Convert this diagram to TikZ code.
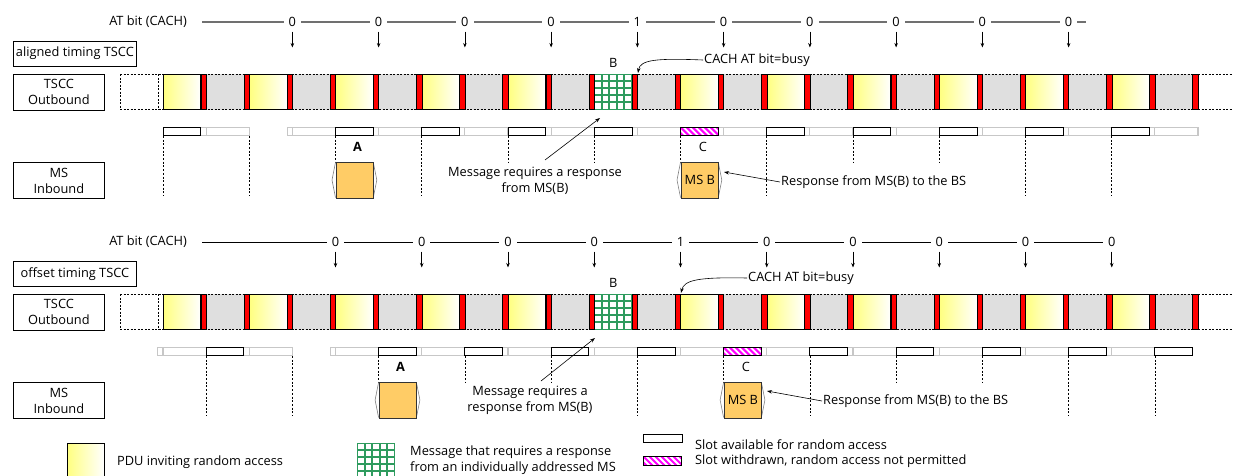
\documentclass[tikz,border=0pt]{standalone}
\usepackage{fontspec}
\setmainfont{Open Sans}
\usetikzlibrary{arrows.meta}
\definecolor{msorange}{HTML}{FFCC66}
\definecolor{chkgreen}{HTML}{2E9B5E}
\definecolor{atgray}{HTML}{707070}
\definecolor{hotpink}{HTML}{FF00FF}
\tikzset{
  txt/.style={font=\fontsize{12.8}{16}\selectfont, inner sep=1pt},
  lbox/.style={draw, line width=0.8, align=center, inner sep=0pt, font=\fontsize{12.8}{16}\selectfont},
  yelslot/.style={left color=yellow!50, right color=white, draw=black, line width=0.8},
  redbar/.style={fill=red, draw=black, line width=0.5},
  stripdash/.style={dash pattern=on 2pt off 1.5pt, line width=0.7},
  slotfree/.style={draw=black, line width=0.9, fill=white},
  slotoff/.style={draw=black!22, line width=1.1, fill=white},
  vdash/.style={dash pattern=on 2pt off 1.7pt, line width=0.7},
  atarrow/.style={line width=0.7, -{Stealth[length=4.5pt,width=3.5pt]}},
  callout/.style={line width=0.6, -{Stealth[length=5pt,width=3.5pt]}},
  msshape/.style={fill=msorange, draw=black!80, line width=0.8, inner sep=0pt,
    minimum width=37.8pt, minimum height=35.2pt, anchor=north west, font=\fontsize{12.8}{16}\selectfont},
}
% checker: x, y, height
\newcommand\checkerbox[3]{%
  \begin{scope}
    \clip (#1,#2) rectangle ++(37.8,#3);
    \fill[white] (#1,#2) rectangle ++(37.8,#3);
    \foreach \i in {0,...,5} {\draw[chkgreen, line width=2] ({#1+7.56*\i},#2) -- ++(0,#3);}
    \foreach \i in {0,...,7} {\draw[chkgreen, line width=2] (#1,{#2+7.1*\i}) -- ++(37.8,0);}
  \end{scope}}
% pink withdrawn slot: x, y
\newcommand\pinkslot[2]{%
  \begin{scope}
    \clip (#1,#2) rectangle ++(37.8,8.6);
    \fill[white] (#1,#2) rectangle ++(37.8,8.6);
    \foreach \s in {-12,-6,...,42} {\draw[hotpink, line width=2.1] ({#1+\s},#2) -- ++(9,9);}
  \end{scope}
  \draw[black, line width=0.9] (#1,#2) rectangle ++(37.8,8.6);}
% MS box with side wedges: x, name, text
\newcommand\msbox[3]{%
  \draw[gray, line width=0.6] (#1,162.3) -- ({#1-3.5},180) -- (#1,197.5);
  \draw[gray, line width=0.6] ({#1+37.8},162.3) -- ({#1+41.3},180) -- ({#1+37.8},197.5);
  \node[msshape] (#2) at (#1,162.3) {#3};}
% TSCC outbound strip
\newcommand\tsccstrip{%
  \fill[gray!25] (163,74) rectangle (1198,109.5);
  \draw[stripdash] (120,74) -- (1233,74) (120,109.5) -- (1233,109.5)
                   (120,74) -- (120,109.5) (158,74) -- (158,109.5);
  \foreach \k in {0,2,...,22} {
    \ifnum\k=10
      \checkerbox{594.25}{74}{35.5}
    \else
      \draw[yelslot] ({163+43.125*\k},74) rectangle ++(37.8,35.5);
    \fi
  }
  \foreach \k in {0,...,23} {\draw[redbar] ({163+43.125*\k+37.8},74) rectangle ++(5.325,35.5);}
  \node[txt] (lblB\secname) at (613.2,62.5) {B};}

\begin{document}
\begin{tikzpicture}[x=1pt,y=-1pt]
\useasboundingbox (0,0) rectangle (1233,475);
\clip (0,0) rectangle (1233,475);

%================ TOP: aligned timing =================
\def\secname{T}
\node[txt, anchor=east] (atlblT) at (188,22) {AT bit (CACH)};
\draw[atgray, line width=1.1] (202,22) -- (1086,22);
\foreach \k/\v [count=\j] in {3/0,5/0,7/0,9/0,11/1,13/0,15/0,17/0,19/0,21/0} {
  \node[txt, fill=white, inner xsep=5pt] (bitT\j) at ({163+43.125*\k},22) {\v};
  \coordinate (bsT\j) at ({163+43.125*\k},31.5);
  \coordinate (beT\j) at ({163+43.125*\k},47.5);
  \draw[atarrow] (bsT\j) -- (beT\j);
}
\node[lbox, anchor=north west, minimum width=123pt, minimum height=24.5pt] (timT) at (13,41) {aligned timing TSCC};
\node[lbox, anchor=north west, minimum width=91pt, minimum height=35.5pt] (outT) at (13,74) {TSCC\\Outbound};
\node[lbox, anchor=north west, minimum width=91pt, minimum height=35.5pt] (msT) at (13,162.3) {MS\\Inbound};
\tsccstrip
% slot row
\foreach \k in {1,3,...,23} {\draw[slotoff] ({163+43.125*\k},127.2) rectangle ++(43.125,8.6);}
\foreach \k in {0,2,...,22} {\draw[slotoff] ({163+43.125*\k+37.8},127.2) rectangle ++(5.325,8.6);}
\foreach \k in {0,4,6,8,10,14,16,18,20,22} {\draw[slotfree] ({163+43.125*\k},127.2) rectangle ++(37.8,8.6);}
\pinkslot{680.5}{127.2}
\foreach \k in {0,2,6,14,20,22} {\draw[vdash] ({163+43.125*\k},135.8) -- ++(0,59.5);}
\foreach \k in {8,10,16,18} {\draw[vdash] ({163+43.125*\k},135.8) -- ++(0,26.5);}
\foreach \k in {4,12} {\draw[vdash] ({163+43.125*\k},135.8) -- ++(0,26.5);}
\msbox{335.5}{msAT}{}
\msbox{680.5}{msBT}{MS B}
\node[txt, font=\fontsize{12.8}{16}\selectfont\bfseries] (lblAT) at (357.5,146.5) {A};
\node[txt] (lblCT) at (703,146.5) {C};
% callouts
\node[txt, anchor=west] (cachT) at (703,60) {CACH AT bit=busy};
\coordinate (cachTipT) at (638,73);
\draw[callout] (cachT.west) .. controls (655,58) and (640,60) .. (cachTipT);
\node[txt, align=center] (msgT) at (535,181) {Message requires a response\\from MS(B)};
\coordinate (msgTailT) at (545,160);
\coordinate (msgTipT) at (600,118);
\draw[callout] (msgTailT) -- (msgTipT);
\node[txt, anchor=west] (respT) at (780,182) {Response from MS(B) to the BS};
\coordinate (respTipT) at (724,172);
\draw[callout] (respT.west) -- (respTipT);

%================ BOTTOM: offset timing =================
\begin{scope}[shift={(0,220)}]
\def\secname{O}
\node[txt, anchor=east] (atlblO) at (188,22) {AT bit (CACH)};
\draw[black, line width=0.7] (202,22) -- (1110,22);
\foreach \k/\v [count=\j] in {4/0,6/0,8/0,10/0,12/1,14/0,16/0,18/0,20/0,22/0} {
  \node[txt, fill=white, inner xsep=5pt] (bitO\j) at ({163+43.125*\k},22) {\v};
  \coordinate (bsO\j) at ({163+43.125*\k},31.5);
  \coordinate (beO\j) at ({163+43.125*\k},47.5);
  \draw[atarrow] (bsO\j) -- (beO\j);
}
\node[lbox, anchor=north west, minimum width=123pt, minimum height=24.5pt] (timO) at (13,41) {offset timing TSCC};
\node[lbox, anchor=north west, minimum width=91pt, minimum height=35.5pt] (outO) at (13,74) {TSCC\\Outbound};
\node[lbox, anchor=north west, minimum width=91pt, minimum height=35.5pt] (msO) at (13,162.3) {MS\\Inbound};
\tsccstrip
% slot row
\draw[slotoff] (157.7,127.2) rectangle ++(5.3,8.6);
\foreach \k in {0,2,...,22} {\draw[slotoff] ({163+43.125*\k},127.2) rectangle ++(43.125,8.6);}
\foreach \k in {1,3,...,21} {\draw[slotoff] ({163+43.125*\k+37.8},127.2) rectangle ++(5.325,8.6);}
\foreach \k in {1,5,7,9,11,15,17,19,21,23} {\draw[slotfree] ({163+43.125*\k},127.2) rectangle ++(37.8,8.6);}
\pinkslot{723.6}{127.2}
\foreach \k in {1,3,11,15,21,23} {\draw[vdash] ({163+43.125*\k},135.8) -- ++(0,59.5);}
\foreach \k in {7,9,17,19} {\draw[vdash] ({163+43.125*\k},135.8) -- ++(0,26.5);}
\foreach \k in {5,13} {\draw[vdash] ({163+43.125*\k},135.8) -- ++(0,26.5);}
\msbox{378.6}{msAO}{}
\msbox{723.6}{msBO}{MS B}
\node[txt, font=\fontsize{12.8}{16}\selectfont\bfseries] (lblAO) at (400.6,146.5) {A};
\node[txt] (lblCO) at (746,146.5) {C};
% callouts
\node[txt, anchor=west] (cachO) at (747,58) {CACH AT bit=busy};
\coordinate (cachTipO) at (681,73);
\draw[callout] (cachO.west) .. controls (698,57) and (684,60) .. (cachTipO);
\node[txt, align=center] (msgO) at (530,180.5) {Message requires a\\response from MS(B)};
\coordinate (msgTailO) at (541,161);
\coordinate (msgTipO) at (595,118);
\draw[callout] (msgTailO) -- (msgTipO);
\node[txt, anchor=west] (respO) at (822,181) {Response from MS(B) to the BS};
\coordinate (respTipO) at (767,171);
\draw[callout] (respO.west) -- (respTipO);
\end{scope}

%================ LEGEND =================
\draw[yelslot] (67,443) rectangle (104,482);
\node[txt, anchor=west] (legPDU) at (116,462) {PDU inviting random access};
\checkerbox{357}{443}{40}
\node[txt, anchor=north west, align=left] (legMsg) at (409,445) {Message that requires a response\\from an individually addressed MS};
\draw[slotfree] (643,434) rectangle (682,442.6);
\node[txt, anchor=west] (legFree) at (694,444.5) {Slot available for random access};
\pinkslot{643.5}{456.5}
\node[txt, anchor=west] (legOff) at (694,461.5) {Slot withdrawn, random access not permitted};
\end{tikzpicture}
\end{document}
